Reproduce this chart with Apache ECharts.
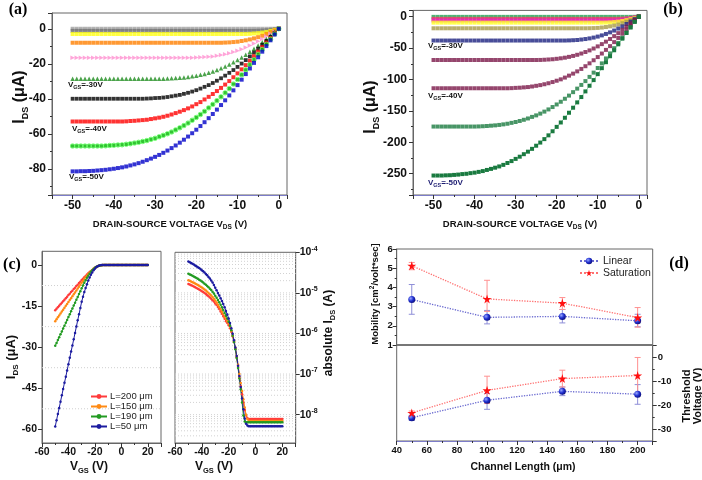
<!DOCTYPE html>
<html><head><meta charset="utf-8">
<script src="https://cdn.jsdelivr.net/npm/echarts@6/dist/echarts.min.js"></script>
<style>html,body{margin:0;padding:0;background:#fff}#c{width:702px;height:480px}</style>
</head><body><div id="c"></div>
<script>
// ---------- DATA ----------
const vds = [-50,-49,-48,-47,-46,-45,-44,-43,-42,-41,-40,-39,-38,-37,-36,-35,-34,-33,-32,-31,-30,-29,-28,-27,-26,-25,-24,-23,-22,-21,-20,-19,-18,-17,-16,-15,-14,-13,-12,-11,-10,-9,-8,-7,-6,-5,-4,-3,-2,-1,0];
// panel (a) I_DS (uA)
const aGray0 = [0,0,0,0,0,0,0,0,0,0, 0,0,0,0,0,0,0,0,0,0, 0,0,0,0,0,0,0,0,0,0, 0,0,0,0,0,0,0,0,0,0, 0,0,0,0,0,0,0,0,0,0, 0];
const aGray1 = [-1.2,-1.2,-1.2,-1.2,-1.2,-1.2,-1.2,-1.2,-1.2,-1.2, -1.2,-1.2,-1.2,-1.2,-1.2,-1.2,-1.2,-1.2,-1.2,-1.2, -1.2,-1.2,-1.2,-1.2,-1.2,-1.2,-1.2,-1.2,-1.2,-1.2, -1.2,-1.2,-1.2,-1.2,-1.2,-1.2,-1.2,-1.2,-1.2,-1.2, -1.2,-1.2,-1.2,-1.2,-1.2, -1.1,-1.0,-0.85,-0.6,-0.3,0];
const aYellow = [-3,-3,-3,-3,-3,-3,-3,-3,-3,-3, -3,-3,-3,-3,-3,-3,-3,-3,-3,-3, -3,-3,-3,-3,-3,-3,-3,-3,-3,-3, -3,-3,-3,-3,-3,-3,-3,-3,-3,-3, -3,-3,-3, -2.9,-2.7,-2.5,-2.2,-1.8,-1.2,-0.6,0];
const aOrange = [-8,-8,-8,-8,-8,-8,-8,-8,-8,-8, -8,-8,-8,-8,-8,-8,-8,-8,-8,-8, -8,-8,-8,-8,-8,-8,-8,-8,-8,-8, -8,-8,-8,-8,-8,-8,-8, -7.9,-7.8,-7.6,-7.4,-7.0,-6.6,-6.1,-5.5,-4.8,-4.0,-3.0,-2.0,-1.0,0];
const aPink = [-16.5,-16.5,-16.5,-16.5,-16.5,-16.5,-16.5,-16.5,-16.5,-16.5, -16.5,-16.5,-16.5,-16.5,-16.5,-16.5,-16.5,-16.5,-16.5,-16.5, -16.5,-16.5,-16.5,-16.5,-16.5,-16.5,-16.5,-16.5,-16.5,-16.5, -16.4,-16.3,-16.2,-16.0,-15.8,-15.4,-15.0,-14.6,-14.0,-13.3,-12.5,-11.7,-10.7,-9.6,-8.4,-7.2,-5.8,-4.4,-2.9,-1.5,0];
const aTri = [-28.5,-28.5,-28.5,-28.5,-28.5,-28.5,-28.5,-28.5,-28.5,-28.5, -28.5,-28.5,-28.5,-28.5,-28.5,-28.5,-28.5,-28.5,-28.5,-28.5, -28.5,-28.5,-28.5, -28.4,-28.3,-28.2,-28.0,-27.8,-27.6,-27.2,-26.8,-26.3,-25.8,-25.1,-24.4,-23.5,-22.6,-21.6,-20.4,-19.2,-17.8,-16.4,-14.8,-13.2,-11.4,-9.6,-7.7,-5.8,-3.9,-1.9,0];
const aBlack = [-40,-40,-40,-40,-40,-40,-40,-40,-40,-40, -40,-40,-40,-40,-40,-40,-40,-40, -39.9,-39.8,-39.6,-39.5,-39.3,-39.0,-38.6,-38.2,-37.8,-37.2,-36.6,-35.9,-35.1,-34.2,-33.2,-32.2,-31.0,-29.7,-28.3,-26.8,-25.2,-23.6,-21.8,-19.9,-17.9,-15.8,-13.6,-11.4,-9.1,-6.9,-4.6,-2.3,0];
const aRed = [-53,-53,-53,-53,-53,-53,-53,-53,-53,-53, -53,-53,-53, -52.9,-52.7,-52.6,-52.4,-52.2,-52.0,-51.6,-51.2,-50.8,-50.3,-49.7,-49.0,-48.2,-47.4,-46.5,-45.5,-44.4,-43.1,-41.9,-40.4,-38.9,-37.3,-35.6,-33.8,-31.9,-29.9,-27.7,-25.5,-23.2,-20.8,-18.3,-15.7,-13.1,-10.5,-7.9,-5.3,-2.6,0];
const aGreen = [-67,-67,-67,-67,-67,-67,-67,-67, -66.9,-66.7,-66.6,-66.4,-66.3,-66.0,-65.7,-65.3,-64.9,-64.4,-63.9,-63.2,-62.6,-61.7,-60.9,-60.0,-59.0,-57.8,-56.6,-55.3,-53.9,-52.3,-50.7,-49.0,-47.2,-45.2,-43.2,-41.1,-38.9,-36.6,-34.2,-31.6,-29.0,-26.3,-23.5,-20.6,-17.7,-14.7,-11.9,-8.9,-6.0,-3.0,0];
const aBlue = [-81.5,-81.5,-81.4,-81.4,-81.3,-81.2,-81.0,-80.8,-80.6,-80.3,-80.0,-79.6,-79.2,-78.7,-78.1,-77.5,-76.8,-76.0,-75.1,-74.2,-73.2,-72.1,-70.9,-69.6,-68.2,-66.7,-65.1,-63.4,-61.6,-59.7,-57.7,-55.6,-53.4,-51.1,-48.7,-46.2,-43.6,-40.9,-38.1,-35.2,-32.2,-29.1,-25.9,-22.7,-19.5,-16.3,-13.1,-9.9,-6.6,-3.3,0];
// panel (b) I_DS (uA)
const bTop = [-0.3,-0.3,-0.3,-0.3,-0.3,-0.3,-0.3,-0.3,-0.3,-0.3, -0.3,-0.3,-0.3,-0.3,-0.3,-0.3,-0.3,-0.3,-0.3,-0.3, -0.3,-0.3,-0.3,-0.3,-0.3,-0.3,-0.3,-0.3,-0.3,-0.3, -0.3,-0.3,-0.3,-0.3,-0.3,-0.3,-0.3,-0.3,-0.3,-0.3, -0.3,-0.3,-0.3,-0.3,-0.3,-0.3,-0.3,-0.3,-0.3, -0.2,0];
const bRed = [-3.5,-3.5,-3.5,-3.5,-3.5,-3.5,-3.5,-3.5,-3.5,-3.5, -3.5,-3.5,-3.5,-3.5,-3.5,-3.5,-3.5,-3.5,-3.5,-3.5, -3.5,-3.5,-3.5,-3.5,-3.5,-3.5,-3.5,-3.5,-3.5,-3.5, -3.5,-3.5,-3.5,-3.5,-3.5,-3.5,-3.5,-3.5,-3.5,-3.5, -3.5,-3.5,-3.5,-3.5,-3.5, -3.4,-3.1,-2.7,-2.0,-1.1,0];
const bMag = [-6,-6,-6,-6,-6,-6,-6,-6,-6,-6, -6,-6,-6,-6,-6,-6,-6,-6,-6,-6, -6,-6,-6,-6,-6,-6,-6,-6,-6,-6, -6,-6,-6,-6,-6,-6,-6,-6,-6,-6, -6,-6,-6,-6, -5.9,-5.6,-5.0,-4.2,-3.0,-1.5,0];
const bYel = [-9.5,-9.5,-9.5,-9.5,-9.5,-9.5,-9.5,-9.5,-9.5,-9.5, -9.5,-9.5,-9.5,-9.5,-9.5,-9.5,-9.5,-9.5,-9.5,-9.5, -9.5,-9.5,-9.5,-9.5,-9.5,-9.5,-9.5,-9.5,-9.5,-9.5, -9.5,-9.5,-9.5,-9.5,-9.5,-9.5,-9.5,-9.5,-9.5,-9.5, -9.5,-9.5, -9.4,-9.1,-8.6,-7.9,-6.9,-5.5,-3.9,-2.0,0];
const bKhaki = [-18.5,-18.5,-18.5,-18.5,-18.5,-18.5,-18.5,-18.5,-18.5,-18.5, -18.5,-18.5,-18.5,-18.5,-18.5,-18.5,-18.5,-18.5,-18.5,-18.5, -18.5,-18.5,-18.5,-18.5,-18.5,-18.5,-18.5,-18.5,-18.5,-18.5, -18.5,-18.5,-18.5,-18.5,-18.5,-18.5,-18.5,-18.5, -18.4,-18.2,-17.9,-17.3,-16.5,-15.4,-14.1,-12.4,-10.4,-8.0,-5.5,-2.8,0];
const bNavy = [-38,-38,-38,-38,-38,-38,-38,-38,-38,-38, -38,-38,-38,-38,-38,-38,-38,-38,-38,-38, -38,-38,-38,-38,-38,-38,-38,-38,-38,-38, -38,-38,-38, -37.8,-37.5,-37.1,-36.4,-35.6,-34.6,-33.3,-31.7,-29.8,-27.5,-25.0,-22.1,-18.9,-15.5,-11.7,-7.8,-4.0,0];
const bPur1 = [-69,-69,-69,-69,-69,-69,-69,-69,-69,-69, -69,-69,-69,-69,-69,-69,-69,-69,-69,-69, -69,-69,-69,-69,-69,-69, -68.9,-68.6,-68.2,-67.8,-67.1,-66.3,-65.3,-64.0,-62.5,-60.7,-58.7,-56.3,-53.7,-50.7,-47.3,-43.7,-39.8,-35.5,-31.0,-26.2,-21.0,-15.8,-10.6,-5.3,0];
const bPur2 = [-114,-114,-114,-114,-114,-114,-114,-114,-114,-114, -114,-114,-114,-114,-114,-114,-114,-114,-114, -113.8,-113.4,-113.1,-112.6,-112.1,-111.2,-110.1,-109.0,-107.6,-106.0,-104.1,-102.0,-99.8,-97.0,-93.9,-90.7,-87.1,-83.2,-78.9,-74.3,-69.4,-64.3,-58.7,-52.9,-46.9,-40.5,-33.9,-27.1,-20.4,-13.7,-6.8,0];
const bGrn1 = [-175,-175,-175,-175,-175,-175,-175,-175,-175,-175, -175, -174.8,-174.5,-174.1,-173.6,-173.1,-172.4,-171.5,-170.5,-169.1,-167.7,-166.1,-164.2,-162.1,-159.6,-157.2,-154.4,-151.2,-147.7,-143.9,-139.8,-135.5,-130.7,-125.7,-120.2,-114.6,-108.7,-102.6,-95.9,-89.1,-81.7,-74.4,-66.5,-58.5,-50.2,-41.8,-33.6,-25.4,-17.0,-8.4,0];
const bGrn2 = [-253,-253,-253,-252.7,-252.5,-252.0,-251.5,-250.7,-250.2,-249.2,-248.4,-247.2,-245.9,-244.1,-242.4,-240.5,-238.5,-236,-233,-230,-226.5,-223,-219,-215,-210.5,-205.5,-200.5,-195,-189,-182.5,-175.5,-168.5,-161,-153,-145,-136.5,-128,-119,-110,-101,-91.5,-82,-72.5,-63,-53.5,-44,-35,-26,-17,-8,0];
// panel (c)
const vgs = [-50,-49,-48,-47,-46,-45,-44,-43,-42,-41,-40,-39,-38,-37,-36,-35,-34,-33,-32,-31,-30,-29,-28,-27,-26,-25,-24,-23,-22,-21,-20,-19,-18,-17,-16,-15,-14,-13,-12,-11,-10,-9,-8,-7,-6,-5,-4,-3,-2,-1,0,1,2,3,4,5,6,7,8,9,10,11,12,13,14,15,16,17,18,19,20];
const cNames = ['L=200 \u03bcm','L=150 \u03bcm','L=190 \u03bcm','L=50 \u03bcm'];
const cRed = [-16.5,-16.0,-15.4,-14.9,-14.3,-13.8,-13.2,-12.7,-12.1,-11.6,-11.0,-10.5,-9.9,-9.4,-8.8,-8.3,-7.7,-7.2,-6.6,-6.1,-5.5, -5.0,-4.5,-4.0,-3.5,-3.0,-2.6,-2.2,-1.8,-1.4,-1.05,-0.75,-0.5,-0.3,-0.15,-0.06, 0,0,0,0,0,0,0,0,0,0, 0,0,0,0,0,0,0,0,0,0, 0,0,0,0,0,0,0,0,0,0, 0,0,0,0,0];
const cOrange = [-20.5,-19.8,-19.1,-18.4,-17.7,-17.0,-16.3,-15.6,-14.9,-14.2,-13.5,-12.8,-12.1,-11.4,-10.7,-10.0,-9.3,-8.6,-7.9,-7.2,-6.5, -5.8,-5.1,-4.5,-3.9,-3.3,-2.8,-2.3,-1.9,-1.5,-1.1,-0.78,-0.5,-0.3,-0.15,-0.06, 0,0,0,0,0,0,0,0,0,0, 0,0,0,0,0,0,0,0,0,0, 0,0,0,0,0,0,0,0,0,0, 0,0,0,0,0];
const cGreen = [-29.5,-28.5,-27.4,-26.4,-25.3,-24.3,-23.2,-22.2,-21.1,-20.1,-19.0,-18.0,-16.9,-15.9,-14.8,-13.8,-12.7,-11.7,-10.6,-9.6,-8.5, -7.5,-6.5,-5.6,-4.7,-3.9,-3.2,-2.5,-1.95,-1.45,-1.05,-0.72,-0.45,-0.25,-0.12,-0.05, 0,0,0,0,0,0,0,0,0,0, 0,0,0,0,0,0,0,0,0,0, 0,0,0,0,0,0,0,0,0,0, 0,0,0,0,0];
const cBlue = [-59,-56.7,-54.4,-52.2,-49.9,-47.6,-45.3,-43.0,-40.8,-38.5,-36.2,-33.9,-31.6,-29.4,-27.1,-24.8,-22.5,-20.2,-18.0,-15.7,-13.4, -11.6,-9.9,-8.4,-7.0,-5.7,-4.6,-3.6,-2.7,-1.95,-1.35,-0.85,-0.5,-0.25,-0.1,-0.04, 0,0,0,0,0,0,0,0,0,0, 0,0,0,0,0,0,0,0,0,0, 0,0,0,0,0,0,0,0,0,0, 0,0,0,0,0];
// absolute I_DS (A), log panel
const lRed = [1.65e-5,1.60e-5,1.54e-5,1.49e-5,1.43e-5,1.38e-5,1.32e-5,1.27e-5,1.21e-5,1.16e-5,1.10e-5,1.05e-5,9.9e-6,9.4e-6,8.8e-6,8.3e-6,7.7e-6,7.2e-6,6.6e-6,6.1e-6,5.5e-6, 5.0e-6,4.5e-6,4.0e-6,3.5e-6,3.05e-6,2.65e-6,2.3e-6,2.0e-6,1.8e-6,1.6e-6,1.35e-6,1.1e-6,8.5e-7,6.2e-7,4.2e-7,2.6e-7,1.5e-7,8.5e-8,5.0e-8,3.2e-8,2.0e-8,1.3e-8,9.5e-9,8.2e-9, 7.8e-9,7.8e-9,7.8e-9,7.8e-9,7.8e-9,7.8e-9,7.8e-9,7.8e-9,7.8e-9,7.8e-9, 7.8e-9,7.8e-9,7.8e-9,7.8e-9,7.8e-9,7.8e-9,7.8e-9,7.8e-9,7.8e-9,7.8e-9, 7.8e-9,7.8e-9,7.8e-9,7.8e-9,7.8e-9,7.8e-9];
const lOrange = [2.05e-5,1.98e-5,1.91e-5,1.84e-5,1.77e-5,1.70e-5,1.63e-5,1.56e-5,1.49e-5,1.42e-5,1.35e-5,1.28e-5,1.21e-5,1.14e-5,1.07e-5,1.0e-5,9.3e-6,8.6e-6,7.9e-6,7.2e-6,6.5e-6, 5.8e-6,5.1e-6,4.5e-6,3.95e-6,3.45e-6,3.0e-6,2.6e-6,2.3e-6,2.0e-6,1.75e-6,1.45e-6,1.15e-6,8.8e-7,6.4e-7,4.4e-7,2.8e-7,1.7e-7,1.0e-7,6.0e-8,3.8e-8,2.4e-8,1.5e-8,1.0e-8,7.8e-9,7.1e-9, 7.0e-9,7.0e-9,7.0e-9,7.0e-9,7.0e-9,7.0e-9,7.0e-9,7.0e-9,7.0e-9,7.0e-9, 7.0e-9,7.0e-9,7.0e-9,7.0e-9,7.0e-9,7.0e-9,7.0e-9,7.0e-9,7.0e-9,7.0e-9, 7.0e-9,7.0e-9,7.0e-9,7.0e-9,7.0e-9];
const lGreen = [2.95e-5,2.85e-5,2.74e-5,2.64e-5,2.53e-5,2.43e-5,2.32e-5,2.22e-5,2.11e-5,2.01e-5,1.90e-5,1.80e-5,1.69e-5,1.59e-5,1.48e-5,1.38e-5,1.27e-5,1.17e-5,1.06e-5,9.6e-6,8.5e-6, 7.6e-6,6.7e-6,5.9e-6,5.1e-6,4.4e-6,3.8e-6,3.2e-6,2.75e-6,2.35e-6,1.95e-6,1.55e-6,1.2e-6,8.8e-7,6.2e-7,4.1e-7,2.5e-7,1.4e-7,7.8e-8,4.2e-8,2.0e-8,9.5e-9,6.8e-9, 6.5e-9,6.5e-9,6.5e-9,6.5e-9,6.5e-9,6.5e-9,6.5e-9,6.5e-9,6.5e-9,6.5e-9, 6.5e-9,6.5e-9,6.5e-9,6.5e-9,6.5e-9,6.5e-9,6.5e-9,6.5e-9,6.5e-9,6.5e-9, 6.5e-9,6.5e-9,6.5e-9,6.5e-9,6.5e-9,6.5e-9,6.5e-9,6.5e-9];
const lBlue = [5.9e-5,5.67e-5,5.44e-5,5.22e-5,4.99e-5,4.76e-5,4.53e-5,4.30e-5,4.08e-5,3.85e-5,3.62e-5,3.39e-5,3.16e-5,2.94e-5,2.71e-5,2.48e-5,2.25e-5,2.02e-5,1.80e-5,1.57e-5,1.34e-5, 1.16e-5,1.0e-5,8.6e-6,7.4e-6,6.3e-6,5.3e-6,4.4e-6,3.6e-6,2.95e-6,2.35e-6,1.8e-6,1.35e-6,9.8e-7,6.8e-7,4.5e-7,2.8e-7,1.6e-7,9.0e-8,4.8e-8,2.5e-8,1.35e-8,8.0e-9,6.0e-9,5.4e-9, 5.2e-9,5.2e-9,5.2e-9,5.2e-9,5.2e-9,5.2e-9,5.2e-9,5.2e-9,5.2e-9,5.2e-9, 5.2e-9,5.2e-9,5.2e-9,5.2e-9,5.2e-9,5.2e-9,5.2e-9,5.2e-9,5.2e-9,5.2e-9, 5.2e-9,5.2e-9,5.2e-9,5.2e-9,5.2e-9,5.2e-9];
// panel (d)
const chanLen = [50,100,150,200];
const mobLin = [3.37,2.44,2.49,2.26];
const mobLinLo = [2.6,2.1,2.15,1.95];
const mobLinHi = [4.15,2.8,2.85,2.6];
const mobSat = [5.13,3.40,3.18,2.43];
const mobSatLo = [4.92,2.75,2.85,1.93];
const mobSatHi = [5.3,4.37,3.47,2.95];
const vthLin = [-25.3,-18.0,-14.3,-15.5];
const vthLinLo = [-26.4,-21.8,-16.1,-19.7];
const vthLinHi = [-24.7,-15.2,-12.5,-11.5];
const vthSat = [-23.3,-13.9,-9.0,-7.7];
const vthSatLo = [-24.3,-19.4,-12.5,-15.5];
const vthSatHi = [-22.5,-8.0,-5.5,-0.2];
const cGridVals = [-52.5,-37.5,-22.5,-7.5];
const cTicks = [-60,-45,-30,-15,0];
const logTicks = [1e-8,1e-7,1e-6,1e-5,1e-4];
const logMantissas = [1,2,3,4,5,6,7,8,9];
const logDecades = [1e-9,1e-8,1e-7,1e-6,1e-5];

// ---------- CHART ----------
const F = 'Liberation Sans, Arial, sans-serif';
const SERIF = 'Liberation Serif, Times New Roman, serif';
const chart = echarts.init(document.getElementById('c'), null, {renderer:'canvas'});
const pts = (xs, ys) => xs.map((x,i)=>[x, ys[i]]);

function lbl(size, extra){ return Object.assign({fontFamily:F, fontWeight:'bold', fontSize:size, color:'#111'}, extra||{}); }
function gridBox(l,t,w,h){ return {left:l, top:t, width:w, height:h, show:true, borderColor:'#666', borderWidth:1, backgroundColor:'transparent', containLabel:false}; }

const tickStyle = {lineStyle:{color:'#333', width:1}};
function valAxis(gi, min, max, o){
  return Object.assign({
    type:'value', gridIndex:gi, min:min, max:max,
    axisLine:{show:true, onZero:false, lineStyle:{color:'#666'}},
    axisTick:Object.assign({show:true, length:4, inside:false}, tickStyle),
    minorTick:Object.assign({show:true, splitNumber:2, length:2}, tickStyle),
    splitLine:{show:false},
    axisLabel:lbl(12, {margin:5, showMinLabel:false, showMaxLabel:false})
  }, o||{});
}

const xAxis = [
  valAxis(0,-55,2,{axisLine:{show:true,onZero:false,lineStyle:{color:'#7c7cc8'}}}),
  valAxis(1,-55,2,{axisLine:{show:true,onZero:false,lineStyle:{color:'#7c7cc8'}}}),
  valAxis(2,-60,30,{interval:20, axisLabel:lbl(10.5,{margin:4, showMaxLabel:false})}),
  valAxis(3,-60,30,{interval:20, axisLabel:lbl(10.5,{margin:4, showMaxLabel:false})}),
  valAxis(4,40,210,{interval:20, show:false}),
  valAxis(5,40,210,{interval:20, axisLabel:lbl(9.5,{margin:4, showMaxLabel:false}), axisLine:{show:true,onZero:false,lineStyle:{color:'#7c7cc8'}}})
];
const yAxis = [
  valAxis(0,-95,9,{axisLabel:lbl(12,{margin:6, showMinLabel:false, showMaxLabel:false})}),
  valAxis(1,-284,10,{axisLabel:lbl(12,{margin:6, showMinLabel:false, showMaxLabel:false})}),
  valAxis(2,-65,5,{minorTick:{show:false},
    axisTick:Object.assign({show:true, length:4, customValues:cTicks}, tickStyle),
    axisLabel:lbl(10.5,{margin:5, customValues:cTicks})}),
  {type:'log', gridIndex:3, min:2e-9, max:1e-4, position:'right', logBase:10,
    axisLine:{show:true, onZero:false, lineStyle:{color:'#666'}},
    axisTick:Object.assign({show:true, length:4, customValues:logTicks}, tickStyle),
    minorTick:{show:false}, splitLine:{show:false},
    axisLabel:{customValues:logTicks, margin:4,
      formatter: v => '{b|10}{p|' + Math.round(Math.log10(v)) + '}',
      rich:{b:{fontFamily:F, fontWeight:'bold', fontSize:10.5, lineHeight:14, color:'#111'},
            p:{fontFamily:F, fontWeight:'bold', fontSize:7, lineHeight:7, verticalAlign:'top', color:'#111'}}}},
  valAxis(4,1,6,{interval:1, axisLabel:lbl(9.5,{margin:4})}),
  valAxis(5,-35,5,{position:'right', axisLabel:lbl(9.5,{margin:5, showMinLabel:false, showMaxLabel:false})})
];

function sc(xi, xs, ys, color, symbol, size, extra){
  return Object.assign({type:'scatter', xAxisIndex:xi, yAxisIndex:xi, data:pts(xs, ys), symbol:symbol, symbolSize:size,
    itemStyle:{color:color}, silent:true, z:3}, extra||{});
}
// horizontal dotted grid lines drawn across a grid through its own axes
function hLines(gi, xRef, vals, color){
  return {type:'custom', xAxisIndex:gi, yAxisIndex:gi, silent:true, z:1, clip:true,
    data: vals.map(v => [xRef, v]),
    renderItem: (params, api) => {
      const p = api.coord([api.value(0), api.value(1)]);
      const cs = params.coordSys;
      return {type:'line', shape:{x1:cs.x, y1:p[1], x2:cs.x + cs.width, y2:p[1]},
        style:{stroke:color, lineWidth:1, lineDash:[1,2]}};
    }};
}

const series = [];
// (a)
series.push(sc(0, vds, aGray0, '#a0a0a0', 'rect', 4));
series.push(sc(0, vds, aGray1, '#707070', 'rect', 4));
series.push(sc(0, vds, aYellow, '#ffff10', 'rect', 4));
series.push(sc(0, vds, aOrange, '#ff7f00', 'rect', 4));
series.push(sc(0, vds, aPink, '#ff8fd0', 'triangle', 4.5, {symbolRotate:-90}));
series.push(sc(0, vds, aTri, '#1e8c1e', 'triangle', 4.5));
series.push(sc(0, vds, aBlack, '#000000', 'rect', 3.8));
series.push(sc(0, vds, aRed, '#ff0000', 'rect', 4));
series.push(sc(0, vds, aGreen, '#00b400', 'rect', 3.6));
series.push(sc(0, vds, aGreen, '#66ff66', 'circle', 4.5, {itemStyle:{color:'rgba(0,0,0,0)', borderColor:'#5cff5c', borderWidth:1}}));
series.push(sc(0, vds, aBlue, '#0000c8', 'rect', 4));
// (b)
series.push(sc(1, vds, bTop, '#22a050', 'rect', 4));
series.push(sc(1, vds, bRed, '#ff3366', 'rect', 4));
series.push(sc(1, vds, bMag, '#e020c0', 'rect', 4));
series.push(sc(1, vds, bYel, '#ffff20', 'rect', 4));
series.push(sc(1, vds, bKhaki, '#a89a48', 'rect', 4));
series.push(sc(1, vds, bNavy, '#1a2080', 'rect', 4));
series.push(sc(1, vds, bPur1, '#7a1848', 'rect', 4));
series.push(sc(1, vds, bPur2, '#7a1848', 'rect', 4));
series.push(sc(1, vds, bGrn1, '#1a7a40', 'rect', 4));
series.push({type:'line', xAxisIndex:1, yAxisIndex:1, data:pts(vds, bGrn2), symbol:'rect', symbolSize:4, showSymbol:true,
  itemStyle:{color:'#1a7a40'}, lineStyle:{color:'#7acc96', width:0.8}, silent:true, z:3});
// (c) linear + log
const cCols = ['#ff3b3b','#ff8a14','#239b23','#1c1ca0'];
const cLin = [cRed, cOrange, cGreen, cBlue];
const cLog = [lRed, lOrange, lGreen, lBlue];
const logGrid = [];
logDecades.forEach(d => logMantissas.forEach(m => { const v = m*d; if (v > 2.05e-9 && v < 0.99e-4) logGrid.push(v); }));
series.push(hLines(2, -60, cGridVals, '#cfcfcf'));
series.push(hLines(3, -60, logGrid, '#d2d2d2'));
for (let k = 0; k < 4; k++) {
  series.push({type:'line', name:cNames[k], xAxisIndex:2, yAxisIndex:2, data:pts(vgs, cLin[k]), symbol:'circle', symbolSize:2.5,
    itemStyle:{color:cCols[k]}, lineStyle:{color:cCols[k], width:1}, silent:true, z:3});
}
for (let k = 0; k < 4; k++) {
  series.push({type:'line', name:cNames[k], xAxisIndex:3, yAxisIndex:3, data:pts(vgs, cLog[k]), symbol:'circle', symbolSize:2.5,
    itemStyle:{color:cCols[k]}, lineStyle:{color:cCols[k], width:1}, silent:true, z:3});
}
// (d)
const STAR = 'path://M50,0 L61,35 L98,35 L68,57 L79,91 L50,70 L21,91 L32,57 L2,35 L39,35 Z';
const blueBall = {type:'radial', x:0.35, y:0.35, r:0.75, colorStops:[{offset:0, color:'#9aa8ff'},{offset:0.5,color:'#2030d0'},{offset:1, color:'#080870'}]};
function errSeries(xi, lo, hi, color){
  return {type:'custom', xAxisIndex:xi, yAxisIndex:xi, z:2, silent:true,
    data: chanLen.map((x,i)=>[x, lo[i], hi[i]]),
    renderItem: (params, api) => {
      const a = api.coord([api.value(0), api.value(1)]);
      const b = api.coord([api.value(0), api.value(2)]);
      const w = 3;
      return {type:'group', children:[
        {type:'line', shape:{x1:a[0],y1:a[1],x2:b[0],y2:b[1]}, style:{stroke:color, lineWidth:1}},
        {type:'line', shape:{x1:a[0]-w,y1:a[1],x2:a[0]+w,y2:a[1]}, style:{stroke:color, lineWidth:1}},
        {type:'line', shape:{x1:b[0]-w,y1:b[1],x2:b[0]+w,y2:b[1]}, style:{stroke:color, lineWidth:1}}
      ]};
    }};
}
series.push(errSeries(4, mobLinLo, mobLinHi, '#8f8fd8'));
series.push(errSeries(4, mobSatLo, mobSatHi, '#ff9090'));
series.push(errSeries(5, vthLinLo, vthLinHi, '#8f8fd8'));
series.push(errSeries(5, vthSatLo, vthSatHi, '#ff9090'));
function dSer(name, xi, ys, sym, size, fill, lineCol){
  return {type:'line', name:name, xAxisIndex:xi, yAxisIndex:xi, data:pts(chanLen, ys), symbol:sym, symbolSize:size,
    itemStyle:{color:fill}, lineStyle:{color:lineCol, type:'dotted', width:1.3}, silent:true, z:4};
}
series.push(dSer('Linear', 4, mobLin, 'circle', 7, blueBall, '#6a6ad0'));
series.push(dSer('Saturation', 4, mobSat, STAR, 9, '#ff1010', '#ff7070'));
series.push(dSer('Linear', 5, vthLin, 'circle', 7, blueBall, '#6a6ad0'));
series.push(dSer('Saturation', 5, vthSat, STAR, 9, '#ff1010', '#ff7070'));

// ---------- TEXT ----------
function rt(x, y, text, rich, rot){
  return {type:'text', x:x, y:y, rotation:rot||0, silent:true, z:10,
    style:{text:text, rich:rich, align:'center', verticalAlign:'middle', textAlign:'center', textVerticalAlign:'middle', fill:'#111'}};
}
function subRich(main, sub, mainLH){
  return {m:{fontFamily:F, fontWeight:'bold', fontSize:main, lineHeight:mainLH, verticalAlign:'middle', fill:'#111', color:'#111'},
          s:{fontFamily:F, fontWeight:'bold', fontSize:sub, lineHeight:sub, verticalAlign:'bottom', fill:'#111', color:'#111'}};
}
function vlab(x, y, t, rich){
  return {type:'text', x:x, y:y, silent:true, z:10, style:{text:'{m|V}{s|GS}{m|' + t + '}', rich:rich, align:'left', verticalAlign:'middle', textAlign:'left', textVerticalAlign:'middle'}};
}
const bigRich = subRich(16, 9, 20);
const xnRich = subRich(9.5, 6.5, 13);
const cRich = subRich(13, 8, 17);
const vRich = subRich(8, 5.5, 10);
const vRichB = {m:Object.assign({}, vRich.m, {fill:'#1a1a70', color:'#1a1a70'}), s:Object.assign({}, vRich.s, {fill:'#1a1a70', color:'#1a1a70'})};
const panelFont = 'bold 16px ' + SERIF;
function plab(x, y, t){ return {type:'text', x:x, y:y, silent:true, style:{text:t, font:panelFont, align:'center', verticalAlign:'middle', textAlign:'center', textVerticalAlign:'middle', fill:'#000'}}; }
const graphic = [
  plab(18, 10, '(a)'), plab(673, 10, '(b)'), plab(12, 265, '(c)'), plab(679, 264, '(d)'),
  rt(20, 97, '{m|I}{s|DS}{m| (\u03bcA)}', bigRich, Math.PI/2),
  rt(371, 107, '{m|I}{s|DS}{m| (\u03bcA)}', bigRich, Math.PI/2),
  rt(170, 224, '{m|DRAIN-SOURCE VOLTAGE V}{s|DS}{m| (V)}', xnRich),
  rt(520, 224, '{m|DRAIN-SOURCE VOLTAGE V}{s|DS}{m| (V)}', xnRich),
  rt(11, 357, '{m|I}{s|DS}{m| (\u03bcA)}', cRich, Math.PI/2),
  rt(89, 467, '{m|V}{s|GS}{m| (V)}', subRich(12, 7.5, 15)),
  rt(214, 467, '{m|V}{s|GS}{m| (V)}', subRich(12, 7.5, 15)),
  rt(329, 333, '{m|absolute I}{s|DS}{m| (A)}', subRich(12, 7.5, 15), Math.PI/2),
  rt(375, 294, '{m|Mobility [cm}{p|2}{m|/volt*sec]}', {m:{fontFamily:F, fontWeight:'bold', fontSize:9.5, lineHeight:12, fill:'#111'}, p:{fontFamily:F, fontWeight:'bold', fontSize:6.5, lineHeight:6, verticalAlign:'top', fill:'#111'}}, Math.PI/2),
  rt(692, 396, '{m|Threshold}\n{m|Voltage (V)}', {m:{fontFamily:F, fontWeight:'bold', fontSize:11, lineHeight:11, fill:'#111'}}, Math.PI/2),
  rt(523, 467, '{m|Channel Length (\u03bcm)}', {m:{fontFamily:F, fontWeight:'bold', fontSize:10.5, lineHeight:13, fill:'#111'}}),
  vlab(68, 85, '=-30V', vRich), vlab(72, 129, '=-40V', vRich), vlab(69, 177, '=-50V', vRich),
  vlab(428, 46, '=-30V', vRich), vlab(428, 96, '=-40V', vRich), vlab(428, 183, '=-50V', vRichB),
  {type:'rect', shape:{x:396.7, y:344, width:256, height:2}, style:{fill:'#777'}, silent:true, z:10}
];

chart.setOption({
  animation:false,
  backgroundColor:'#fff',
  grid:[gridBox(52,13,235,182), gridBox(413,10.4,234,184.6), gridBox(42,251.3,119,191.7), gridBox(175,252.3,120.7,190.7), gridBox(396.7,249,256,96), gridBox(396.7,345,256,96)],
  xAxis:xAxis, yAxis:yAxis, series:series, graphic:graphic,
  legend:[
    {data:cNames, left:85, top:386.5, orient:'vertical', itemGap:0, itemWidth:16, itemHeight:6, selectedMode:false,
     textStyle:{fontFamily:F, fontSize:9.5, color:'#222', lineHeight:10, padding:[0,0,0,-2]}},
    {data:['Linear','Saturation'], left:574, top:250, orient:'vertical', itemGap:0, itemWidth:18, itemHeight:8, selectedMode:false,
     textStyle:{fontFamily:F, fontSize:10.5, color:'#222', lineHeight:12}}
  ]
});
</script></body></html>
